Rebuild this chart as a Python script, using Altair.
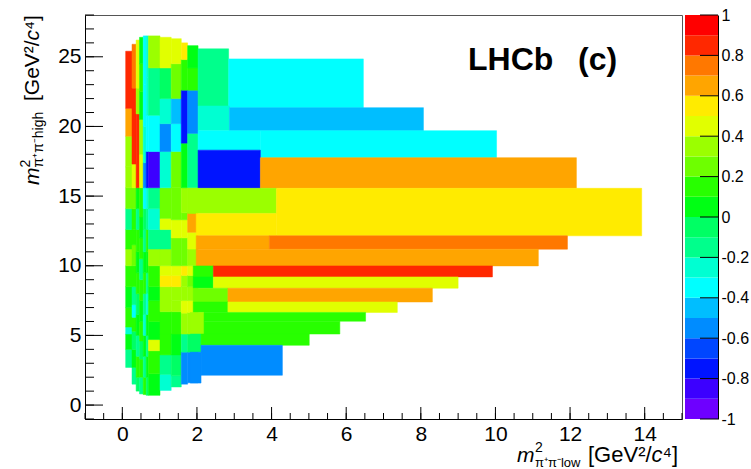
import altair as alt
import pandas as pd
import numpy as np

# ---- palette bins (asymmetry value -> colour), 20 bins of width 0.1 ----
palette = ["#6e00ff", "#3c00ff", "#0014ff", "#0046ff", "#008cff", "#00beff",
           "#00ffff", "#00ffd2", "#00ff8c", "#00ff64", "#00ff14", "#28ff00",
           "#6eff00", "#9bff00", "#e1ff00", "#ffeb00", "#ffa500", "#ff7800",
           "#ff2800", "#ff0000"]
thresholds = [-0.9, -0.8, -0.7, -0.6, -0.5, -0.4, -0.3, -0.2, -0.1, 0.0,
              0.1, 0.2, 0.3, 0.4, 0.5, 0.6, 0.7, 0.8, 0.9]

R, O2, O, Y, YG, LG, G3, G2, G1 = 0.85, 0.75, 0.65, 0.55, 0.45, 0.35, 0.25, 0.15, 0.05
T1, T2, T3, C, B1, B2, B3, B4, V1 = -0.05, -0.15, -0.25, -0.35, -0.45, -0.55, -0.65, -0.75, -0.85

# ---- narrow columns at low m2_low ----
col_x0 = [0.09, 0.26, 0.37, 0.46, 0.56, 0.64, 0.70, 1.01, 1.31, 1.58, 1.75]
col_x1 = [0.26, 0.37, 0.46, 0.56, 0.64, 0.70, 1.01, 1.31, 1.58, 1.75, 2.03]
col_edges = [
    [2.7, 4.0, 5.1, 5.6, 7.0, 8.5, 10.0, 11.2, 12.6, 14.1, 15.6, 17.1, 19.3, 21.3, 25.4],
    [1.5, 2.7, 4.0, 5.3, 6.3, 7.2, 8.5, 10.0, 11.5, 12.6, 14.1, 15.6, 17.3, 22.75, 25.9],
    [1.0, 2.0, 3.5, 5.0, 6.5, 8.0, 9.5, 11.0, 12.6, 14.1, 15.6, 20.9, 22.75, 26.2],
    [0.8, 2.0, 3.3, 4.6, 6.0, 7.5, 9.0, 10.5, 12.0, 13.5, 15.6, 18.0, 20.5, 22.5, 24.5, 26.4],
    [0.75, 2.0, 3.5, 5.0, 6.5, 8.0, 9.5, 11.0, 12.6, 14.1, 15.6, 17.4, 20.0, 23.0, 26.5],
    [0.7, 2.0, 3.5, 5.0, 6.5, 8.0, 9.5, 11.0, 12.6, 14.1, 15.6, 18.2, 20.8, 23.5, 26.5],
    [0.7, 2.25, 3.9, 4.7, 6.0, 7.5, 8.5, 10.0, 11.2, 12.6, 14.1, 15.6, 18.2, 20.8, 24.2, 26.5],
    [1.05, 2.2, 3.6, 5.1, 6.7, 8.5, 9.3, 10.0, 11.2, 12.6, 13.4, 15.6, 18.2, 20.2, 22.0, 24.2, 26.4],
    [1.3, 2.1, 3.6, 5.1, 6.7, 7.5, 8.5, 9.3, 10.0, 12.0, 13.3, 15.6, 18.2, 20.2, 22.0, 24.5, 26.3],
    [1.5, 3.8, 5.1, 6.6, 7.5, 8.5, 9.3, 10.0, 12.0, 13.3, 13.8, 15.6, 18.8, 22.6, 24.8, 26.0],
    [1.6, 3.8, 5.1, 6.65, 7.5, 8.5, 9.3, 10.0, 11.2, 12.4, 13.8, 15.6, 19.5, 22.6, 24.2, 25.8],
]
col_vals = [
    [T2, G1, T3, G2, G1, G2, LG, G2, T2, G3, LG, LG, O, R],
    [T2, G1, T1, G2, C, T2, G2, G3, G2, G2, G3, YG, R, O2],
    [T1, G2, T2, G1, T1, G2, G1, G2, T2, G1, R, LG, YG],
    [T2, G2, T1, G2, G1, G2, T2, G2, G1, G2, YG, LG, G1, G2, G1],
    [G2, T2, G1, T3, T2, G2, G1, T2, T1, C, B2, T3, C, C],
    [T1, G1, T2, G1, T3, T2, G1, G2, T2, T3, B4, C, T3, T3],
    [G1, G2, YG, G1, G2, G1, G2, LG, T2, T3, T2, V1, C, T2, LG],
    [T3, T2, G2, G2, LG, Y, YG, LG, T2, YG, G3, T3, B2, T3, T1, YG],
    [T2, T1, G1, G2, LG, LG, Y, YG, G3, YG, G3, G3, C, B1, G3, YG],
    [B2, T2, LG, YG, LG, LG, Y, G3, YG, G3, LG, G1, B4, G2, Y],
    [B2, T1, LG, YG, LG, G3, YG, LG, YG, O, LG, T2, B2, G2, G1],
]

# ---- wide bins ----
bar_x0 = [2.03, 2.85, 2.03, 2.87, 2.03, 3.70, 2.03, 3.70, 1.75, 4.13, 1.98, 1.98, 3.94, 1.98,
          1.90, 2.44, 1.90, 2.44, 1.90, 2.83, 1.90, 2.83, 1.82, 2.19, 2.19, 1.82, 2.11, 2.11, 1.82]
bar_x1 = [2.85, 6.46, 2.87, 8.07, 3.70, 10.03, 3.70, 12.17, 4.13, 13.92, 4.13, 3.94, 11.93, 11.15,
          2.44, 9.92, 2.44, 9.00, 2.83, 8.31, 2.83, 7.37, 2.19, 6.52, 5.83, 2.11, 5.01, 4.29, 2.11]
bar_y0 = [21.47, 21.35, 19.70, 19.70, 18.30, 17.76, 15.56, 15.56, 13.76, 12.15, 12.15, 11.19, 11.19, 9.99,
          9.20, 9.20, 8.39, 8.39, 7.40, 7.40, 6.65, 6.65, 5.10, 6.02, 5.10, 3.80, 4.29, 2.14, 1.58]
bar_y1 = [25.57, 24.85, 21.47, 21.35, 19.70, 19.70, 18.30, 17.76, 15.56, 15.56, 13.76, 12.15, 12.15, 11.19,
          9.99, 9.99, 9.20, 9.20, 8.39, 8.39, 7.40, 7.40, 6.65, 6.65, 6.02, 5.10, 5.10, 4.29, 3.80]
bar_val = [T2, C, T3, B1, C, C, B4, O, LG, Y, Y, O, O2, O,
           G2, R, G1, YG, G3, O, G2, YG, LG, G2, G2, T1, G2, B2, B2]

# ---- axes ticks / labels ----
x_labels = [0, 2, 4, 6, 8, 10, 12, 14]
y_labels = [0, 5, 10, 15, 20, 25]
x_minor = [v / 2 for v in range(-2, 31)]
y_minor = list(range(-1, 29))
cb_labels = [-1.0, -0.8, -0.6, -0.4, -0.2, 0.0, 0.2, 0.4, 0.6, 0.8, 1.0]
cb_lo = [round(-1 + 0.1 * i, 2) for i in range(20)]
cb_hi = [round(-0.9 + 0.1 * i, 2) for i in range(20)]
cb_mid = [round(-0.95 + 0.1 * i, 3) for i in range(20)]

rows = []
for k in range(len(col_x0)):
    e, v = col_edges[k], col_vals[k]
    for i in range(len(v)):
        rows.append(dict(x0=col_x0[k], x1=col_x1[k], y0=e[i], y1=e[i + 1], v=v[i]))
for i in range(len(bar_val)):
    rows.append(dict(x0=bar_x0[i], x1=bar_x1[i], y0=bar_y0[i], y1=bar_y1[i], v=bar_val[i]))
cells = pd.DataFrame(rows)

FONT = "Liberation Sans"
W, H = 597, 404
cscale = alt.Scale(type="threshold", domain=thresholds, range=palette)
xs = alt.Scale(domain=[-1, 15], nice=False, zero=False)
ys = alt.Scale(domain=[-1, 28], nice=False, zero=False)
cbs = alt.Scale(domain=[-1, 1], nice=False, zero=False)

xax = alt.Axis(values=x_labels, title=None, grid=False, ticks=False, domain=True,
               domainColor="black", labelFont=FONT, labelFontSize=21, labelColor="black",
               labelPadding=4, labelFlush=False, labelOverlap=False, format="d")
yax = alt.Axis(values=y_labels, title=None, grid=False, ticks=False, domain=True,
               domainColor="black", labelFont=FONT, labelFontSize=21, labelColor="black",
               labelPadding=4, labelOverlap=False, format="d")
cbax = alt.Axis(orient="right", offset=36, values=cb_labels, title=None, grid=False,
                ticks=False, domain=True, domainColor="black", labelFont=FONT,
                labelFontSize=16, labelColor="black", labelPadding=3, labelOverlap=False,
                labelFlush=False,
                labelExpr="datum.value == 0 ? '0' : (datum.value < 0 ? '-' + format(-datum.value, '.1~f') : format(datum.value, '.1~f'))")

cell_layer = alt.Chart(cells).mark_rect(strokeWidth=0.5).encode(
    x=alt.X("x0:Q", scale=xs, axis=xax, title=None),
    x2="x1:Q",
    y=alt.Y("y0:Q", scale=ys, axis=yax, title=None),
    y2="y1:Q",
    color=alt.Color("v:Q", scale=cscale, legend=None),
    stroke=alt.Stroke("v:Q", scale=cscale, legend=None),
)

xt_major = alt.Chart(pd.DataFrame({"x0": x_labels})).mark_rule(color="black").encode(
    x=alt.X("x0:Q", scale=xs, axis=xax, title=None), y=alt.value(H), y2=alt.value(H - 12))
xt_minor = alt.Chart(pd.DataFrame({"x0": x_minor})).mark_rule(color="black").encode(
    x=alt.X("x0:Q", scale=xs, axis=xax, title=None), y=alt.value(H), y2=alt.value(H - 6))
yt_major = alt.Chart(pd.DataFrame({"y0": y_labels})).mark_rule(color="black").encode(
    y=alt.Y("y0:Q", scale=ys, axis=yax, title=None), x=alt.value(0), x2=alt.value(18))
yt_minor = alt.Chart(pd.DataFrame({"y0": y_minor})).mark_rule(color="black").encode(
    y=alt.Y("y0:Q", scale=ys, axis=yax, title=None), x=alt.value(0), x2=alt.value(9))

one = pd.DataFrame({"a": [0]})


def txt(s, x, y, size, angle=0, italic=False, bold=False, align="left"):
    return alt.Chart(one).mark_text(
        text=s, font=FONT, fontSize=size, fontStyle="italic" if italic else "normal",
        fontWeight="bold" if bold else "normal", angle=angle, align=align,
        baseline="alphabetic", color="black").encode(x=alt.value(x), y=alt.value(y))


texts = [
    txt("LHCb", 383, 55, 32, bold=True),
    txt("(c)", 493, 55, 32, bold=True),
    # x title
    txt("m", 432, 447, 21, italic=True),
    txt("2", 450, 437, 14),
    txt("π⁺π⁻low", 450, 452, 13),
    txt("[GeV²/", 503, 447, 22),
    txt("c", 566.5, 447, 22, italic=True),
    txt("⁴]", 577.5, 447, 22),
    # y title (rotated)
    txt("m", -46.5, 170, 21, angle=270, italic=True),
    txt("2", -55, 152.5, 14, angle=270),
    txt("π⁺π⁻high", -42.5, 152.5, 14, angle=270),
    txt("[GeV²/", -46.5, 86, 21, angle=270),
    txt("c", -46.5, 25.4, 21, angle=270, italic=True),
    txt("⁴]", -46.5, 14.9, 21, angle=270),
]

main = alt.layer(cell_layer, xt_minor, xt_major, yt_minor, yt_major, *texts)

cb = pd.DataFrame({"lo": cb_lo, "hi": cb_hi, "v": cb_mid})
cb_rect = alt.Chart(cb).mark_rect().encode(
    y=alt.Y("lo:Q", scale=cbs, axis=cbax, title=None),
    y2="hi:Q",
    x=alt.value(600), x2=alt.value(633),
    color=alt.Color("v:Q", scale=cscale, legend=None),
)
cb_ticks = alt.Chart(pd.DataFrame({"lo": cb_labels})).mark_rule(color="black").encode(
    y=alt.Y("lo:Q", scale=cbs, axis=cbax, title=None), x=alt.value(615), x2=alt.value(633))
cbar = alt.layer(cb_rect, cb_ticks)

chart = alt.layer(main, cbar).resolve_scale(y="independent").properties(
    width=W, height=H,
    padding={"left": 85, "top": 15, "right": 69, "bottom": 50},
    autosize=alt.AutoSizeParams(type="none"),
    background="white",
).configure_view(stroke="#555", strokeWidth=1)

chart.save("out.html", embed_options={"renderer": "svg", "actions": False})
